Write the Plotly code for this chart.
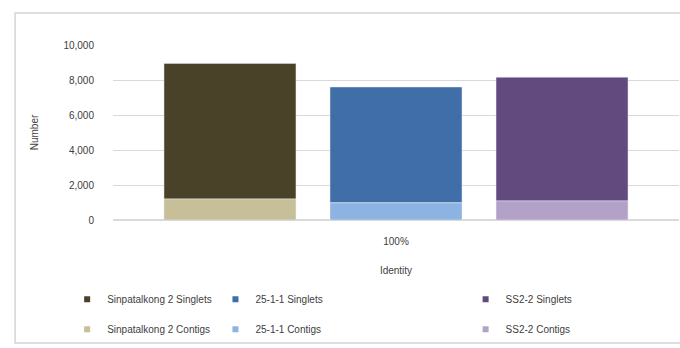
import plotly.graph_objects as go

categories = ["100%"]
strains = ["Sinpatalkong 2", "25-1-1", "SS2-2"]
contigs = [1200, 980, 1090]
singlets = [7750, 6620, 7070]
singlet_colors = ["#4a4228", "#3f6ea8", "#62497e"]
contig_colors = ["#c6bf98", "#8db3e2", "#b3a2c8"]

FONT = "Liberation Sans"
fig = go.Figure()

legend_x = [-0.081, 0.181, 0.623]
for i, s in enumerate(strains):
    lg = "legend" if i == 0 else f"legend{i + 1}"
    fig.add_trace(go.Bar(
        x=categories, y=[singlets[i]], base=[contigs[i]],
        name=f"{s} Singlets", marker_color=singlet_colors[i],
        offsetgroup=str(i), showlegend=False,
    ))
    fig.add_trace(go.Bar(
        x=categories, y=[contigs[i]], base=[0],
        name=f"{s} Contigs", marker_color=contig_colors[i],
        offsetgroup=str(i), showlegend=False,
    ))
    # legend entries with small square symbols (like the original)
    for name, col, grp, rank in [(f"{s} Singlets", singlet_colors[i], f"s{i}", 1),
                                 (f"{s} Contigs", contig_colors[i], f"c{i}", 2)]:
        fig.add_trace(go.Scatter(
            x=[None], y=[None], mode="markers", name=name,
            marker=dict(symbol="square", size=6, color=col),
            legend=lg, legendgroup=grp, legendrank=rank, hoverinfo="skip",
        ))

legend_common = dict(
    orientation="v", yanchor="top", xanchor="left", y=-0.37,
    font=dict(family=FONT, size=10, color="#404040"),
    bgcolor="rgba(0,0,0,0)", tracegroupgap=11, itemwidth=30,
    traceorder="grouped",
)

layout_legends = {}
for i in range(3):
    key = "legend" if i == 0 else f"legend{i + 1}"
    layout_legends[key] = dict(legend_common, x=legend_x[i])

fig.update_layout(
    width=680, height=348,
    margin=dict(l=113, r=1, t=45, b=128),
    paper_bgcolor="white", plot_bgcolor="white",
    barmode="group", bargap=0.12, bargroupgap=0.205,
    font=dict(family=FONT, size=10, color="#404040"),
    showlegend=True,
    xaxis=dict(
        title=dict(text="Identity", font=dict(size=10, color="#404040"), standoff=20),
        showgrid=False, showline=True, linecolor="#d9d9d9", linewidth=1,
        ticks="outside", ticklen=12, tickcolor="rgba(0,0,0,0)",
        tickfont=dict(size=10, color="#404040"),
    ),
    yaxis=dict(
        title=dict(text="Number", font=dict(size=10, color="#404040"), standoff=22),
        range=[0, 10000], tickvals=[0, 2000, 4000, 6000, 8000, 10000],
        tickformat=",", gridcolor="#d9d9d9", gridwidth=1,
        zeroline=True, zerolinecolor="#d9d9d9",
        ticks="outside", ticklen=16, tickcolor="rgba(0,0,0,0)",
        tickfont=dict(size=10, color="#404040"),
    ),
    shapes=[dict(
        type="rect", xref="paper", yref="paper",
        x0=-0.173, x1=1.05, y0=-0.703, y1=1.183,
        line=dict(color="#d4d4d4", width=1.5), layer="below",
    )],
    **layout_legends,
)

fig.write_html("out.html")
